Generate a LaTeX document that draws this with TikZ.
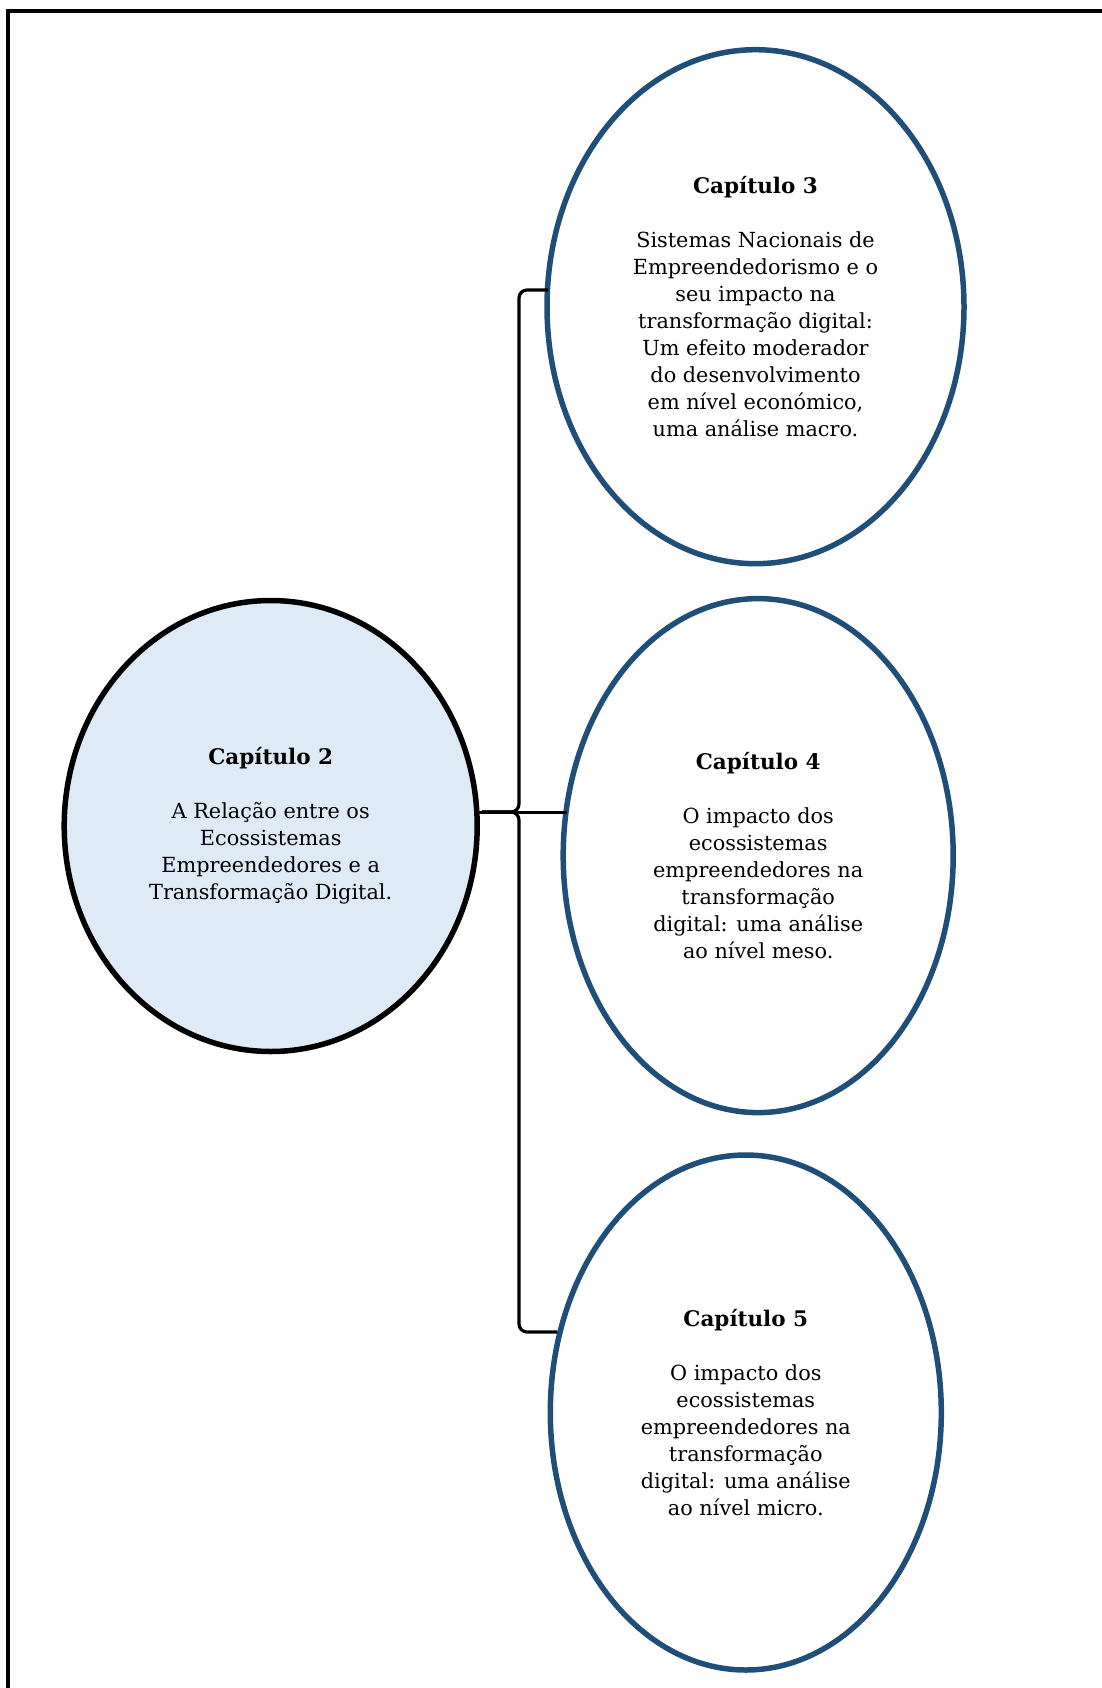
\documentclass[tikz,border=0pt]{standalone}
\usepackage{fontspec}
\setmainfont{DejaVu Serif}
\usetikzlibrary{shapes.geometric,calc}
\definecolor{dblue}{HTML}{1F4E79}
\definecolor{lblue}{HTML}{DEEAF6}
\newcommand{\chaptitle}[1]{{\fontsize{21.5}{27}\selectfont\bfseries #1}}
\begin{document}
\begin{tikzpicture}[x=1pt,y=-1pt,
  chap/.style={ellipse,draw=dblue,line width=5.5pt,inner sep=0pt,outer sep=0pt,align=center,
    font=\fontsize{20.8}{27}\selectfont},
  mainchap/.style={chap,draw=black,fill=lblue},
  brk/.style={line width=3.2pt,rounded corners=8pt},
  frame/.style={line width=4pt}]
\useasboundingbox (0,0) rectangle (1101,1688);
\draw[frame] (8,1700) -- (8,11) -- (1110,11);
\node[mainchap,minimum width=413pt,minimum height=451pt] (c2) at (270.7,826)
  {\chaptitle{Capítulo 2}\\[27pt]A Relação entre os\\Ecossistemas\\Empreendedores e a\\Transformação Digital.};
\node[chap,minimum width=417pt,minimum height=514pt] (c3) at (755.5,306.7)
  {\chaptitle{Capítulo 3}\\[27pt]Sistemas Nacionais de\\Empreendedorismo e o\\seu impacto na\\transformação digital:\\Um efeito moderador\\do desenvolvimento\\em nível económico,\\uma análise macro.};
\node[chap,minimum width=390pt,minimum height=514pt] (c4) at (758.2,855.6)
  {\chaptitle{Capítulo 4}\\[27pt]O impacto dos\\ecossistemas\\empreendedores na\\transformação\\digital: uma análise\\ao nível meso.};
\node[chap,minimum width=391pt,minimum height=515pt] (c5) at (745.8,1412.5)
  {\chaptitle{Capítulo 5}\\[27pt]O impacto dos\\ecossistemas\\empreendedores na\\transformação\\digital: uma análise\\ao nível micro.};
\coordinate (tip) at (482,812);
\draw[brk] ($(c3.west)+(1,-16.7)$) -- (519,290) -- (519,812) -- (tip);
\draw[brk] ($(c5.west)+(7,-80.5)$) -- (519,1332) -- (519,812) -- (tip);
\draw[line width=3pt] ($(c2.east)+(0,-14)$) -- ($(c4.west)+(4,-43.6)$);
\end{tikzpicture}
\end{document}
